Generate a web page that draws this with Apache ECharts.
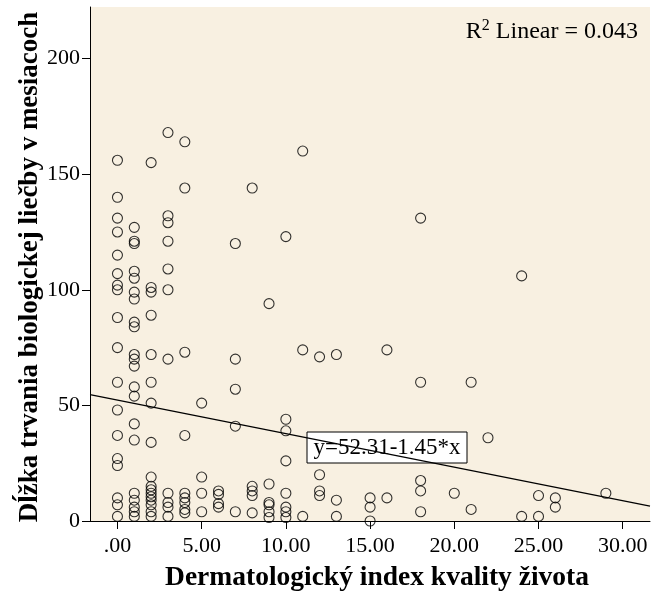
<!DOCTYPE html>
<html>
<head>
<meta charset="utf-8">
<script src="https://cdn.jsdelivr.net/npm/echarts@6/dist/echarts.min.js"></script>
<style>html,body{margin:0;padding:0;background:#fff}#c{width:652px;height:593px}</style>
</head>
<body>
<div id="c"></div>
<script>
// Dermatologický index kvality života (x) and Dĺžka liečby v mesiacoch (y)
const dlqiScores = [
  0,0,0,0,0,0,0,0,0,0,0,0,0,0,0,0,0,0,
  1,1,1,1,1,1,1,1,1,1,1,1,1,1,1,1,1,1,1,1,1,
  2,2,2,2,2,2,2,2,2,2,2,2,2,2,2,2,2,
  3,3,3,3,3,3,3,3,3,3,3,
  4,4,4,4,4,4,4,4,4,
  5,5,5,5,
  6,6,6,6,
  7,7,7,7,7,
  8,8,8,8,8,
  9,9,9,9,9,9,
  10,10,10,10,10,10,10,10,
  11,11,11,
  12,12,12,12,
  13,13,13,
  15,15,15,
  16,16,
  18,18,18,18,18,
  20,
  21,21,
  22,
  24,24,
  25,25,
  26,26,
  29
];
const treatmentMonths = [
  156,140,131,125,115,107,102,100,88,75,60,48,37,27,24,10,7,2,
  127,121,120,108,105,99,96,86,84,72,70,67,58,54,42,35,12,9,6,4,2,
  155,101,99,89,72,60,51,34,19,15,13.5,12,10.5,9,7,4,2,
  168,132,129,121,109,100,70,12,8,6,2,
  164,144,73,37,12,10,8,5,3.5,
  51,19,12,4,
  13,11.5,7.5,6,
  120,70,57,41,4,
  144,15,13,11,3.5,
  94,16,8,7,4,1.5,
  123,44,39,26,12,6,4,1.5,
  160,74,2,
  71,20,13,11,
  72,9,2,
  10,6,0,
  74,10,
  131,60,17.5,13,4,
  12,
  60,5,
  36,
  106,2,
  11,2,
  10,6,
  12
];
const regressionIntercept = [52.31];
const regressionSlope = [-1.45];
const rSquared = ['0.043'];
const xTickValues = [0,5,10,15,20,25,30];
const yTickValues = [0,50,100,150,200];
const xAxisTitle = 'Dermatologický index kvality života';
const yAxisTitle = 'Dĺžka trvania biologickej liečby v mesiacoch';

const X_MIN = -1.63, X_MAX = 31.62, Y_MIN = 0, Y_MAX = 222.3;

const points = dlqiScores.map((x, i) => [x, treatmentMonths[i]]);
const lineData = [X_MIN, X_MAX].map(x => [x, regressionIntercept[0] + regressionSlope[0] * x]);

const FONT = '"Liberation Serif", "Times New Roman", serif';

const chart = echarts.init(document.getElementById('c'), null, {renderer: 'canvas'});
chart.setOption({
  animation: false,
  backgroundColor: '#ffffff',
  grid: {
    left: 90, top: 7, right: 2, bottom: 72,
    show: true, backgroundColor: '#f8f0e1', borderWidth: 0
  },
  xAxis: {
    type: 'value', min: X_MIN, max: X_MAX,
    axisLine: {show: true, onZero: false, lineStyle: {color: '#000', width: 1}},
    axisTick: {show: true, length: 8, customValues: xTickValues, lineStyle: {color: '#000'}},
    axisLabel: {
      customValues: xTickValues, margin: 14,
      color: '#000', fontFamily: FONT, fontSize: 22,
      formatter: v => v === 0 ? '.00' : v.toFixed(2)
    },
    splitLine: {show: false}
  },
  yAxis: {
    type: 'value', min: Y_MIN, max: Y_MAX,
    axisLine: {show: true, onZero: false, lineStyle: {color: '#000', width: 1}},
    axisTick: {show: true, length: 8, customValues: yTickValues, lineStyle: {color: '#000'}},
    axisLabel: {
      customValues: yTickValues, margin: 10,
      color: '#000', fontFamily: FONT, fontSize: 22
    },
    splitLine: {show: false}
  },
  series: [
    {
      type: 'line', data: lineData, symbol: 'none', silent: true,
      lineStyle: {color: '#000', width: 1.2}, z: 2
    },
    {
      type: 'scatter', data: points, symbol: 'circle', symbolSize: 10,
      itemStyle: {color: 'rgba(0,0,0,0)', borderColor: '#000', borderWidth: 1.1},
      z: 3
    }
  ],
  graphic: [
    {
      type: 'text', z: 10, x: 377, y: 578,
      style: {
        text: xAxisTitle, x: 0, y: 0, align: 'center', verticalAlign: 'middle',
        font: 'bold 27.5px ' + FONT, fill: '#000'
      }
    },
    {
      type: 'text', z: 10, rotation: Math.PI / 2, x: 30, y: 267,
      style: {
        text: yAxisTitle, x: 0, y: 0, align: 'center', verticalAlign: 'middle',
        font: 'bold 27px ' + FONT, fill: '#000'
      }
    },
    {
      type: 'text', z: 10, x: 638, y: 31,
      style: {
        text: '{n|R}{s|2}{n| Linear = ' + rSquared[0] + '}',
        align: 'right', verticalAlign: 'middle',
        rich: {
          n: {fontFamily: FONT, fontSize: 24, fill: '#000', color: '#000', verticalAlign: 'bottom', lineHeight: 26},
          s: {fontFamily: FONT, fontSize: 16, fill: '#000', color: '#000', verticalAlign: 'top', lineHeight: 26, padding: [0, 0, 10, 0]}
        }
      }
    },
    {
      type: 'group', z: 10, x: 307, y: 432,
      children: [
        {type: 'rect', shape: {x: 0, y: 0, width: 160, height: 31},
         style: {fill: '#fff', stroke: '#000', lineWidth: 1}},
        {type: 'text', style: {
          text: 'y=' + regressionIntercept[0] + (regressionSlope[0] < 0 ? '-' : '+') + Math.abs(regressionSlope[0]) + '*x',
          x: 80, y: 16, align: 'center', verticalAlign: 'middle',
          font: '23px ' + FONT, fill: '#000'}}
      ]
    }
  ]
});
</script>
</body>
</html>
